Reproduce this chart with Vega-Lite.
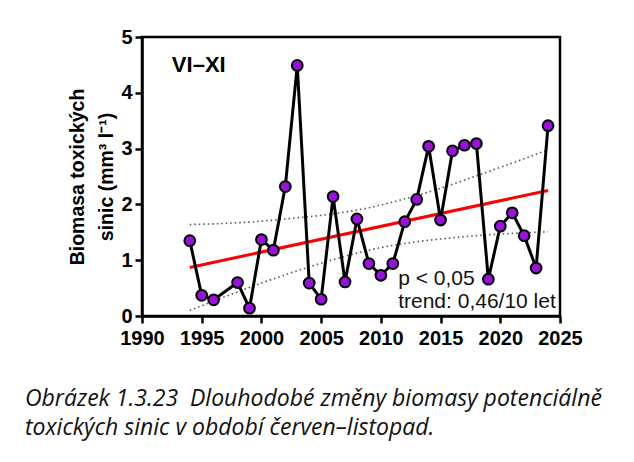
{
  "$schema": "https://vega.github.io/schema/vega-lite/v6.json",
  "width": 418,
  "height": 279,
  "autosize": {"type": "none"},
  "padding": {"left": 142, "top": 37, "right": 74, "bottom": 146},
  "background": "white",
  "title": {
    "text": ["Obrázek 1.3.23\u00a0 Dlouhodobé změny biomasy potenciálně", "toxických sinic v období červen–listopad."],
    "orient": "bottom",
    "anchor": "start",
    "frame": "group",
    "dx": -117,
    "offset": 40,
    "font": "Open Sans",
    "fontStyle": "italic",
    "fontWeight": "normal",
    "fontSize": 23,
    "lineHeight": 29,
    "color": "#111111"
  },
  "datasets": {
    "obs": [
      {"year": 1994, "biomass": 1.35},
      {"year": 1995, "biomass": 0.37},
      {"year": 1996, "biomass": 0.29},
      {"year": 1998, "biomass": 0.6},
      {"year": 1999, "biomass": 0.14},
      {"year": 2000, "biomass": 1.37},
      {"year": 2001, "biomass": 1.18},
      {"year": 2002, "biomass": 2.32},
      {"year": 2003, "biomass": 4.49},
      {"year": 2004, "biomass": 0.59},
      {"year": 2005, "biomass": 0.3},
      {"year": 2006, "biomass": 2.14},
      {"year": 2007, "biomass": 0.61},
      {"year": 2008, "biomass": 1.74},
      {"year": 2009, "biomass": 0.94},
      {"year": 2010, "biomass": 0.73},
      {"year": 2011, "biomass": 0.94},
      {"year": 2012, "biomass": 1.69},
      {"year": 2013, "biomass": 2.09},
      {"year": 2014, "biomass": 3.04},
      {"year": 2015, "biomass": 1.72},
      {"year": 2016, "biomass": 2.96},
      {"year": 2017, "biomass": 3.06},
      {"year": 2018, "biomass": 3.09},
      {"year": 2019, "biomass": 0.66},
      {"year": 2020, "biomass": 1.61},
      {"year": 2021, "biomass": 1.85},
      {"year": 2022, "biomass": 1.44},
      {"year": 2023, "biomass": 0.86},
      {"year": 2024, "biomass": 3.41}
    ],
    "trend": [
      {"year": 1994, "biomass": 0.87},
      {"year": 2024, "biomass": 2.25}
    ],
    "band": [
      {"year": 1994, "lower": 0.1, "upper": 1.64},
      {"year": 1997, "lower": 0.35, "upper": 1.66},
      {"year": 2000, "lower": 0.59, "upper": 1.7},
      {"year": 2003, "lower": 0.81, "upper": 1.76},
      {"year": 2006, "lower": 1.01, "upper": 1.83},
      {"year": 2009, "lower": 1.18, "upper": 1.94},
      {"year": 2012, "lower": 1.3, "upper": 2.1},
      {"year": 2015, "lower": 1.38, "upper": 2.29},
      {"year": 2018, "lower": 1.44, "upper": 2.51},
      {"year": 2021, "lower": 1.48, "upper": 2.74},
      {"year": 2024, "lower": 1.51, "upper": 2.98}
    ]
  },
  "encoding": {
    "x": {
      "field": "year",
      "type": "quantitative",
      "scale": {"domain": [1990, 2025], "nice": false, "zero": false},
      "axis": {"values": [1990, 1995, 2000, 2005, 2010, 2015, 2020, 2025], "format": "d", "title": null, "labelPadding": 5, "labelFlush": false, "labelOverlap": false}
    }
  },
  "layer": [
    {
      "data": {"name": "band"},
      "mark": {"type": "line", "color": "#555555", "strokeWidth": 1.6, "strokeDash": [1.5, 3], "interpolate": "monotone"},
      "encoding": {
        "y": {"field": "lower", "type": "quantitative", "scale": {"domain": [0, 5], "nice": false}, "title": ["Biomasa toxických", "sinic (mm³ l⁻¹)"]}
      }
    },
    {
      "data": {"name": "band"},
      "mark": {"type": "line", "color": "#555555", "strokeWidth": 1.6, "strokeDash": [1.5, 3], "interpolate": "monotone"},
      "encoding": {
        "y": {"field": "upper", "type": "quantitative", "title": ["Biomasa toxických", "sinic (mm³ l⁻¹)"]}
      }
    },
    {
      "data": {"name": "trend"},
      "mark": {"type": "line", "color": "#ff0000", "strokeWidth": 3},
      "encoding": {
        "y": {"field": "biomass", "type": "quantitative", "title": ["Biomasa toxických", "sinic (mm³ l⁻¹)"]}
      }
    },
    {
      "data": {"name": "obs"},
      "mark": {"type": "line", "color": "black", "strokeWidth": 3},
      "encoding": {
        "y": {"field": "biomass", "type": "quantitative", "title": ["Biomasa toxických", "sinic (mm³ l⁻¹)"]}
      }
    },
    {
      "data": {"name": "obs"},
      "mark": {"type": "point", "filled": true, "fill": "#9a10dc", "stroke": "black", "strokeWidth": 2, "size": 115, "opacity": 1},
      "encoding": {
        "y": {"field": "biomass", "type": "quantitative", "title": ["Biomasa toxických", "sinic (mm³ l⁻¹)"]}
      }
    },
    {
      "data": {"values": [{"year": 1992.5, "biomass": 4.38, "label": "VI–XI"}]},
      "mark": {"type": "text", "align": "left", "baseline": "alphabetic", "font": "Liberation Sans", "fontWeight": "bold", "fontSize": 22, "color": "black"},
      "encoding": {
        "y": {"field": "biomass", "type": "quantitative", "title": ["Biomasa toxických", "sinic (mm³ l⁻¹)"]},
        "text": {"field": "label"}
      }
    },
    {
      "data": {"values": [{"year": 2011.45, "biomass": 0.555, "label": "p < 0,05"}, {"year": 2011.45, "biomass": 0.138, "label": "trend: 0,46/10 let"}]},
      "mark": {"type": "text", "align": "left", "baseline": "alphabetic", "font": "Liberation Sans", "fontSize": 21, "color": "#111111"},
      "encoding": {
        "y": {"field": "biomass", "type": "quantitative", "title": ["Biomasa toxických", "sinic (mm³ l⁻¹)"]},
        "text": {"field": "label"}
      }
    }
  ],
  "resolve": {"scale": {"y": "shared"}},
  "config": {
    "view": {"stroke": "black", "strokeWidth": 2.5},
    "axis": {
      "domainColor": "black",
      "domainWidth": 2.5,
      "tickColor": "black",
      "tickWidth": 2.5,
      "tickSize": 7,
      "labelFont": "Liberation Sans",
      "labelFontWeight": "bold",
      "labelFontSize": 20,
      "labelColor": "black",
      "titleFont": "Liberation Sans",
      "titleFontWeight": "bold",
      "titleFontSize": 19.5,
      "titleColor": "black",
      "grid": false
    },
    "axisY": {"values": [0, 1, 2, 3, 4, 5], "format": "d", "labelPadding": 3, "titlePadding": 4, "titleLineHeight": 29, "labelOverlap": false, "labelFlush": false}
  }
}
